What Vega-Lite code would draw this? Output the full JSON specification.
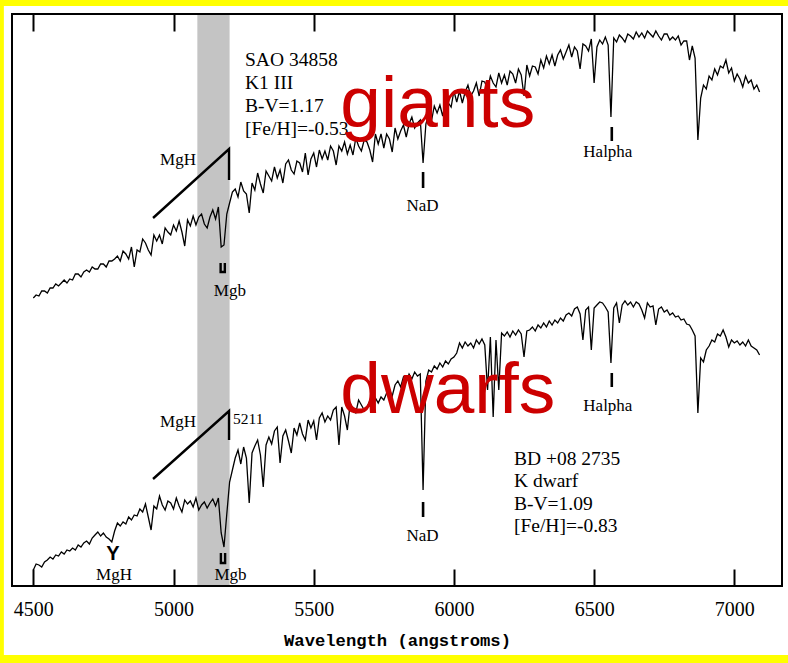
{
  "$schema": "https://vega.github.io/schema/vega-lite/v6.json",
  "autosize": {"type": "none"},
  "padding": {"left": 12, "top": 14, "right": 6, "bottom": 77},
  "width": 770,
  "height": 572,
  "background": "#ffff00",
  "config": {"view": {"stroke": null}},
  "datasets": {
    "spectra": [
      {"w":4500,"g":288,"d":16},{"w":4510,"g":291,"d":22},{"w":4520,"g":290,"d":21},{"w":4530,"g":295,"d":19},{"w":4540,"g":295,"d":24},
      {"w":4550,"g":293,"d":26},{"w":4560,"g":298,"d":29},{"w":4570,"g":298,"d":27},{"w":4580,"g":302,"d":31},{"w":4590,"g":300,"d":30},
      {"w":4600,"g":303,"d":34},{"w":4610,"g":306,"d":32},{"w":4620,"g":303,"d":36},{"w":4630,"g":307,"d":35},{"w":4640,"g":306,"d":38},
      {"w":4650,"g":312,"d":36},{"w":4660,"g":312,"d":41},{"w":4670,"g":309,"d":39},{"w":4680,"g":314,"d":43},{"w":4690,"g":316,"d":45},
      {"w":4700,"g":314,"d":42},{"w":4710,"g":319,"d":48},{"w":4720,"g":317,"d":51},{"w":4730,"g":317,"d":54},{"w":4740,"g":322,"d":50},
      {"w":4750,"g":322,"d":53},{"w":4760,"g":319,"d":49},{"w":4770,"g":325,"d":47},{"w":4780,"g":325,"d":44},{"w":4790,"g":327,"d":55},
      {"w":4800,"g":330,"d":63},{"w":4810,"g":325,"d":60},{"w":4820,"g":335,"d":64},{"w":4830,"g":332,"d":62},{"w":4840,"g":327,"d":69},
      {"w":4850,"g":339,"d":66},{"w":4860,"g":319,"d":71},{"w":4870,"g":336,"d":70},{"w":4880,"g":334,"d":77},{"w":4890,"g":347,"d":74},
      {"w":4900,"g":343,"d":82},{"w":4910,"g":336,"d":69},{"w":4920,"g":331,"d":56},{"w":4930,"g":351,"d":80},{"w":4940,"g":345,"d":77},
      {"w":4950,"g":351,"d":90},{"w":4960,"g":342,"d":81},{"w":4970,"g":358,"d":76},{"w":4980,"g":354,"d":85},{"w":4990,"g":351,"d":83},
      {"w":5000,"g":361,"d":77},{"w":5010,"g":355,"d":88},{"w":5020,"g":365,"d":80},{"w":5030,"g":354,"d":74},{"w":5040,"g":340,"d":86},
      {"w":5050,"g":366,"d":82},{"w":5060,"g":360,"d":85},{"w":5070,"g":370,"d":79},{"w":5080,"g":361,"d":88},{"w":5090,"g":369,"d":76},
      {"w":5100,"g":372,"d":81},{"w":5110,"g":362,"d":84},{"w":5120,"g":358,"d":78},{"w":5130,"g":369,"d":83},{"w":5140,"g":376,"d":87},
      {"w":5150,"g":367,"d":80},{"w":5160,"g":379,"d":88},{"w":5170,"g":339,"d":53},{"w":5180,"g":341,"d":39},{"w":5190,"g":372,"d":72},
      {"w":5200,"g":383,"d":104},{"w":5210,"g":394,"d":116},{"w":5220,"g":397,"d":128},{"w":5230,"g":389,"d":136},{"w":5240,"g":404,"d":122},
      {"w":5250,"g":395,"d":139},{"w":5260,"g":392,"d":128},{"w":5270,"g":373,"d":83},{"w":5280,"g":403,"d":133},{"w":5290,"g":396,"d":140},
      {"w":5300,"g":413,"d":146},{"w":5310,"g":402,"d":131},{"w":5320,"g":393,"d":99},{"w":5330,"g":415,"d":141},{"w":5340,"g":410,"d":149},
      {"w":5350,"g":405,"d":142},{"w":5360,"g":419,"d":155},{"w":5370,"g":408,"d":159},{"w":5380,"g":416,"d":123},{"w":5390,"g":403,"d":150},
      {"w":5400,"g":422,"d":156},{"w":5410,"g":426,"d":145},{"w":5420,"g":416,"d":133},{"w":5430,"g":412,"d":158},{"w":5440,"g":425,"d":151},
      {"w":5450,"g":423,"d":163},{"w":5460,"g":414,"d":152},{"w":5470,"g":433,"d":146},{"w":5480,"g":411,"d":166},{"w":5490,"g":427,"d":158},
      {"w":5500,"g":433,"d":165},{"w":5510,"g":419,"d":146},{"w":5520,"g":436,"d":168},{"w":5530,"g":427,"d":173},{"w":5540,"g":435,"d":164},
      {"w":5550,"g":426,"d":170},{"w":5560,"g":440,"d":166},{"w":5570,"g":435,"d":176},{"w":5580,"g":421,"d":179},{"w":5590,"g":440,"d":141},
      {"w":5600,"g":435,"d":179},{"w":5610,"g":444,"d":170},{"w":5620,"g":432,"d":156},{"w":5630,"g":441,"d":183},{"w":5640,"g":431,"d":176},
      {"w":5650,"g":448,"d":173},{"w":5660,"g":440,"d":186},{"w":5670,"g":435,"d":181},{"w":5680,"g":446,"d":176},{"w":5690,"g":444,"d":179},
      {"w":5700,"g":436,"d":185},{"w":5710,"g":424,"d":178},{"w":5720,"g":452,"d":188},{"w":5730,"g":442,"d":183},{"w":5740,"g":452,"d":189},
      {"w":5750,"g":438,"d":186},{"w":5760,"g":452,"d":193},{"w":5770,"g":447,"d":196},{"w":5780,"g":434,"d":190},{"w":5790,"g":458,"d":201},
      {"w":5800,"g":447,"d":205},{"w":5810,"g":455,"d":199},{"w":5820,"g":461,"d":209},{"w":5830,"g":449,"d":204},{"w":5840,"g":462,"d":212},
      {"w":5850,"g":469,"d":207},{"w":5860,"g":458,"d":214},{"w":5870,"g":463,"d":210},{"w":5880,"g":466,"d":212},{"w":5890,"g":423,"d":96},
      {"w":5900,"g":462,"d":205},{"w":5910,"g":472,"d":216},{"w":5920,"g":465,"d":214},{"w":5930,"g":480,"d":220},{"w":5940,"g":473,"d":217},
      {"w":5950,"g":481,"d":223},{"w":5960,"g":470,"d":219},{"w":5970,"g":484,"d":225},{"w":5980,"g":483,"d":222},{"w":5990,"g":479,"d":227},
      {"w":6000,"g":495,"d":229},{"w":6010,"g":484,"d":233},{"w":6020,"g":495,"d":243},{"w":6030,"g":483,"d":238},{"w":6040,"g":494,"d":244},
      {"w":6050,"g":501,"d":240},{"w":6060,"g":490,"d":243},{"w":6070,"g":495,"d":238},{"w":6080,"g":503,"d":246},{"w":6090,"g":490,"d":242},
      {"w":6100,"g":505,"d":247},{"w":6110,"g":504,"d":241},{"w":6120,"g":496,"d":196},{"w":6130,"g":510,"d":249},{"w":6140,"g":503,"d":169},
      {"w":6150,"g":499,"d":246},{"w":6160,"g":513,"d":196},{"w":6170,"g":503,"d":253},{"w":6180,"g":511,"d":250},{"w":6190,"g":501,"d":254},
      {"w":6200,"g":515,"d":249},{"w":6210,"g":512,"d":255},{"w":6220,"g":503,"d":251},{"w":6230,"g":517,"d":256},{"w":6240,"g":511,"d":252},
      {"w":6250,"g":490,"d":229},{"w":6260,"g":521,"d":255},{"w":6270,"g":510,"d":256},{"w":6280,"g":520,"d":259},{"w":6290,"g":519,"d":255},
      {"w":6300,"g":512,"d":261},{"w":6310,"g":526,"d":258},{"w":6320,"g":518,"d":263},{"w":6330,"g":530,"d":259},{"w":6340,"g":522,"d":265},
      {"w":6350,"g":531,"d":261},{"w":6360,"g":520,"d":266},{"w":6370,"g":531,"d":263},{"w":6380,"g":536,"d":268},{"w":6390,"g":527,"d":265},
      {"w":6400,"g":534,"d":271},{"w":6410,"g":541,"d":273},{"w":6420,"g":529,"d":270},{"w":6430,"g":539,"d":277},{"w":6440,"g":535,"d":279},
      {"w":6450,"g":517,"d":272},{"w":6460,"g":542,"d":246},{"w":6470,"g":540,"d":276},{"w":6480,"g":535,"d":279},{"w":6490,"g":547,"d":236},
      {"w":6500,"g":503,"d":278},{"w":6510,"g":539,"d":281},{"w":6520,"g":546,"d":284},{"w":6530,"g":542,"d":283},{"w":6540,"g":549,"d":279},
      {"w":6550,"g":541,"d":274},{"w":6560,"g":469,"d":223},{"w":6570,"g":548,"d":278},{"w":6580,"g":544,"d":283},{"w":6590,"g":551,"d":263},
      {"w":6600,"g":548,"d":281},{"w":6610,"g":544,"d":285},{"w":6620,"g":552,"d":281},{"w":6630,"g":550,"d":284},{"w":6640,"g":547,"d":279},
      {"w":6650,"g":554,"d":284},{"w":6660,"g":549,"d":282},{"w":6670,"g":553,"d":276},{"w":6680,"g":548,"d":268},{"w":6690,"g":555,"d":283},
      {"w":6700,"g":552,"d":279},{"w":6710,"g":549,"d":280},{"w":6720,"g":555,"d":261},{"w":6730,"g":550,"d":277},{"w":6740,"g":546,"d":279},
      {"w":6750,"g":552,"d":274},{"w":6760,"g":552,"d":276},{"w":6770,"g":546,"d":271},{"w":6780,"g":549,"d":273},{"w":6790,"g":546,"d":269},
      {"w":6800,"g":550,"d":270},{"w":6810,"g":541,"d":266},{"w":6820,"g":545,"d":267},{"w":6830,"g":545,"d":262},{"w":6840,"g":526,"d":261},
      {"w":6850,"g":540,"d":256},{"w":6860,"g":528,"d":250},{"w":6870,"g":446,"d":173},{"w":6880,"g":488,"d":228},{"w":6890,"g":501,"d":224},
      {"w":6900,"g":497,"d":236},{"w":6910,"g":510,"d":240},{"w":6920,"g":506,"d":246},{"w":6930,"g":517,"d":244},{"w":6940,"g":511,"d":252},
      {"w":6950,"g":520,"d":250},{"w":6960,"g":518,"d":256},{"w":6970,"g":526,"d":249},{"w":6980,"g":513,"d":239},{"w":6990,"g":518,"d":246},
      {"w":7000,"g":505,"d":243},{"w":7010,"g":512,"d":245},{"w":7020,"g":507,"d":241},{"w":7030,"g":499,"d":244},{"w":7040,"g":510,"d":240},
      {"w":7050,"g":503,"d":246},{"w":7060,"g":506,"d":240},{"w":7070,"g":497,"d":238},{"w":7080,"g":501,"d":236},{"w":7090,"g":494,"d":231}
    ],
    "info": [
      {"w":5255,"f":520,"t":"SAO 34858"},
      {"w":5255,"f":497,"t":"K1 III"},
      {"w":5255,"f":474,"t":"B-V=1.17"},
      {"w":5255,"f":451,"t":"[Fe/H]=-0.53"},
      {"w":6214,"f":121,"t":"BD +08 2735"},
      {"w":6214,"f":99,"t":"K dwarf"},
      {"w":6214,"f":76,"t":"B-V=1.09"},
      {"w":6214,"f":54,"t":"[Fe/H]=-0.83"}
    ],
    "lines": [
      {"w":5016,"f":421,"t":"MgH"},
      {"w":5201,"f":290,"t":"Mgb"},
      {"w":5888,"f":375,"t":"NaD"},
      {"w":6549,"f":429,"t":"Halpha"},
      {"w":5016,"f":159,"t":"MgH"},
      {"w":4788,"f":6,"t":"MgH"},
      {"w":5203,"f":6,"t":"Mgb"},
      {"w":5888,"f":45,"t":"NaD"},
      {"w":6549,"f":175,"t":"Halpha"}
    ],
    "groups": [
      {"w":5595,"f":459,"t":"giants"},
      {"w":5595,"f":173,"t":"dwarfs"}
    ],
    "markers": [
      {"w":5890,"f":398,"f2":414},
      {"w":6563,"f":445,"f2":459},
      {"w":5890,"f":69,"f2":84},
      {"w":6563,"f":199,"f2":213}
    ],
    "paths": [
      {"id":"mgh_giant","o":1,"w":4927,"f":368},
      {"id":"mgh_giant","o":2,"w":5198,"f":437},
      {"id":"mgh_giant","o":3,"w":5198,"f":406},
      {"id":"mgh_dwarf","o":1,"w":4927,"f":107},
      {"id":"mgh_dwarf","o":2,"w":5198,"f":175},
      {"id":"mgh_dwarf","o":3,"w":5198,"f":146},
      {"id":"mgb_giant","o":1,"w":5168,"f":323},
      {"id":"mgb_giant","o":2,"w":5168,"f":314},
      {"id":"mgb_giant","o":3,"w":5183,"f":314},
      {"id":"mgb_giant","o":4,"w":5183,"f":323},
      {"id":"mgb_dwarf","o":1,"w":5169,"f":33},
      {"id":"mgb_dwarf","o":2,"w":5169,"f":23},
      {"id":"mgb_dwarf","o":3,"w":5184,"f":23},
      {"id":"mgb_dwarf","o":4,"w":5184,"f":33}
    ]
  },
  "layer": [
    {
      "data": {"values": [{"x1":4395,"x2":7200,"y1":-69,"y2":580}]},
      "mark": {"type": "rect", "fill": "white"},
      "encoding": {
        "x": {"field": "x1", "type": "quantitative", "scale": {"domain": [4424, 7170], "nice": false, "zero": false}, "axis": null},
        "x2": {"field": "x2"},
        "y": {"field": "y1", "type": "quantitative", "scale": {"domain": [0, 572], "nice": false, "zero": false}, "axis": null},
        "y2": {"field": "y2"}
      }
    },
    {
      "data": {"values": [{"a":5085,"b":5200}]},
      "mark": {"type": "rect", "fill": "#c4c4c4"},
      "encoding": {
        "x": {"field": "a", "type": "quantitative", "scale": {"domain": [4424, 7170], "nice": false, "zero": false},
          "axis": {"orient": "top", "values": [4500, 5000, 5500, 6000, 6500, 7000], "labels": false, "domain": false, "grid": false,
            "tickSize": -17, "tickWidth": 2, "tickColor": "black", "title": null, "zindex": 1}},
        "x2": {"field": "b"}
      }
    },
    {
      "data": {"name": "spectra"},
      "mark": {"type": "line", "color": "black", "strokeWidth": 1.3, "strokeJoin": "miter"},
      "encoding": {
        "x": {"field": "w", "type": "quantitative", "scale": {"domain": [4424, 7170], "nice": false, "zero": false},
          "axis": {"orient": "bottom", "values": [4500, 5000, 5500, 6000, 6500, 7000], "format": "d", "domain": false, "grid": false,
            "tickSize": -17, "tickWidth": 2, "tickColor": "black",
            "labelFont": "Liberation Serif", "labelFontSize": 20, "labelColor": "black", "labelBaseline": "alphabetic",
            "labelPadding": 46, "labelFlush": false, "labelOverlap": false,
            "title": "Wavelength (angstroms)", "titleFont": "Liberation Mono", "titleFontSize": 17.2, "titleFontWeight": "bold",
            "titleColor": "black", "titleBaseline": "alphabetic", "titleY": 59, "zindex": 1}},
        "y": {"field": "g", "type": "quantitative", "scale": {"domain": [0, 572], "nice": false, "zero": false}, "axis": null}
      }
    },
    {
      "data": {"name": "spectra"},
      "mark": {"type": "line", "color": "black", "strokeWidth": 1.3, "strokeJoin": "miter"},
      "encoding": {
        "x": {"field": "w", "type": "quantitative", "scale": {"domain": [4424, 7170], "nice": false, "zero": false}, "axis": null},
        "y": {"field": "d", "type": "quantitative", "scale": {"domain": [0, 572], "nice": false, "zero": false}, "axis": null}
      }
    },
    {
      "data": {"name": "paths"},
      "mark": {"type": "line", "color": "black", "strokeWidth": 2.4},
      "encoding": {
        "x": {"field": "w", "type": "quantitative", "scale": {"domain": [4424, 7170], "nice": false, "zero": false}, "axis": null},
        "y": {"field": "f", "type": "quantitative", "scale": {"domain": [0, 572], "nice": false, "zero": false}, "axis": null},
        "detail": {"field": "id"},
        "order": {"field": "o"}
      }
    },
    {
      "data": {"name": "markers"},
      "mark": {"type": "rule", "color": "black", "strokeWidth": 2.6},
      "encoding": {
        "x": {"field": "w", "type": "quantitative", "scale": {"domain": [4424, 7170], "nice": false, "zero": false}, "axis": null},
        "y": {"field": "f", "type": "quantitative", "scale": {"domain": [0, 572], "nice": false, "zero": false}, "axis": null},
        "y2": {"field": "f2"}
      }
    },
    {
      "data": {"values": [{"w":4784,"f":26,"t":"Y"}]},
      "mark": {"type": "text", "font": "Liberation Sans", "fontWeight": "bold", "fontSize": 20, "align": "center", "baseline": "alphabetic", "color": "black"},
      "encoding": {
        "x": {"field": "w", "type": "quantitative", "scale": {"domain": [4424, 7170], "nice": false, "zero": false}, "axis": null},
        "y": {"field": "f", "type": "quantitative", "scale": {"domain": [0, 572], "nice": false, "zero": false}, "axis": null},
        "text": {"field": "t"}
      }
    },
    {
      "data": {"name": "lines"},
      "mark": {"type": "text", "font": "Liberation Serif", "fontSize": 17, "align": "center", "baseline": "alphabetic", "color": "black"},
      "encoding": {
        "x": {"field": "w", "type": "quantitative", "scale": {"domain": [4424, 7170], "nice": false, "zero": false}, "axis": null},
        "y": {"field": "f", "type": "quantitative", "scale": {"domain": [0, 572], "nice": false, "zero": false}, "axis": null},
        "text": {"field": "t"}
      }
    },
    {
      "data": {"values": [{"w":5212,"f":162,"t":"5211"}]},
      "mark": {"type": "text", "font": "Liberation Serif", "fontSize": 15.5, "align": "left", "baseline": "alphabetic", "color": "black"},
      "encoding": {
        "x": {"field": "w", "type": "quantitative", "scale": {"domain": [4424, 7170], "nice": false, "zero": false}, "axis": null},
        "y": {"field": "f", "type": "quantitative", "scale": {"domain": [0, 572], "nice": false, "zero": false}, "axis": null},
        "text": {"field": "t"}
      }
    },
    {
      "data": {"name": "info"},
      "mark": {"type": "text", "font": "Liberation Serif", "fontSize": 19.5, "align": "left", "baseline": "alphabetic", "color": "black"},
      "encoding": {
        "x": {"field": "w", "type": "quantitative", "scale": {"domain": [4424, 7170], "nice": false, "zero": false}, "axis": null},
        "y": {"field": "f", "type": "quantitative", "scale": {"domain": [0, 572], "nice": false, "zero": false}, "axis": null},
        "text": {"field": "t"}
      }
    },
    {
      "data": {"name": "groups"},
      "mark": {"type": "text", "font": "Liberation Sans", "fontSize": 73, "align": "left", "baseline": "alphabetic", "color": "#cc0000"},
      "encoding": {
        "x": {"field": "w", "type": "quantitative", "scale": {"domain": [4424, 7170], "nice": false, "zero": false}, "axis": null},
        "y": {"field": "f", "type": "quantitative", "scale": {"domain": [0, 572], "nice": false, "zero": false}, "axis": null},
        "text": {"field": "t"}
      }
    },
    {
      "data": {"values": [{"x1":4424,"x2":7170,"y1":0,"y2":572}]},
      "mark": {"type": "rect", "fill": null, "fillOpacity": 0, "stroke": "black", "strokeWidth": 2},
      "encoding": {
        "x": {"field": "x1", "type": "quantitative", "scale": {"domain": [4424, 7170], "nice": false, "zero": false}, "axis": null},
        "x2": {"field": "x2"},
        "y": {"field": "y1", "type": "quantitative", "scale": {"domain": [0, 572], "nice": false, "zero": false}, "axis": null},
        "y2": {"field": "y2"}
      }
    }
  ],
  "resolve": {"axis": {"x": "independent"}}
}
